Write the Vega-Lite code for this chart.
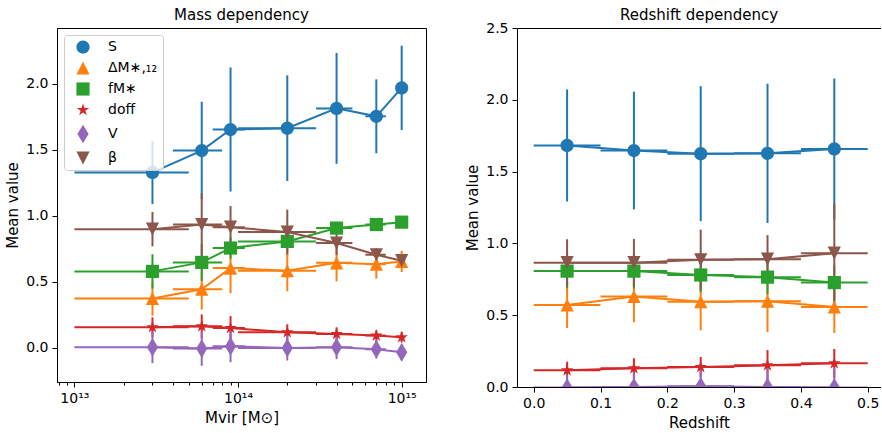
{
  "$schema": "https://vega.github.io/schema/vega-lite/v6.json",
  "autosize": {"type": "pad"},
  "padding": {"left": 5, "top": 7, "right": 0, "bottom": 0},
  "background": "white",
  "bounds": "flush",
  "spacing": 91,
  "config": {
    "font": "DejaVu Sans",
    "view": {"stroke": "black", "strokeWidth": 1},
    "axis": {
      "grid": false,
      "domainColor": "black",
      "domainWidth": 1,
      "tickColor": "black",
      "tickWidth": 1,
      "tickSize": 5,
      "labelColor": "black",
      "labelFont": "DejaVu Sans",
      "labelFontSize": 14,
      "labelPadding": 4,
      "labelFlush": false,
      "labelOverlap": false,
      "titleColor": "black",
      "titleFont": "DejaVu Sans",
      "titleFontSize": 15,
      "titleFontWeight": "normal",
      "titlePadding": 5
    },
    "title": {"fontSize": 15, "fontWeight": "normal", "font": "DejaVu Sans", "color": "black", "offset": 5}
  },
  "resolve": {
    "scale": {"x": "independent", "y": "independent"},
    "legend": {"color": "independent", "shape": "independent"}
  },
  "datasets": {
    "mass": [
      {"series": "S", "x": 3e13, "xlo": 1e13, "xhi": 5e13, "y": 1.33, "ylo": 1.09, "yhi": 1.57},
      {"series": "S", "x": 6e13, "xlo": 4e13, "xhi": 8e13, "y": 1.495, "ylo": 1.125, "yhi": 1.865},
      {"series": "S", "x": 9e13, "xlo": 7e13, "xhi": 1.1e14, "y": 1.655, "ylo": 1.185, "yhi": 2.125},
      {"series": "S", "x": 2e14, "xlo": 1e14, "xhi": 3e14, "y": 1.665, "ylo": 1.265, "yhi": 2.065},
      {"series": "S", "x": 4e14, "xlo": 3e14, "xhi": 5e14, "y": 1.815, "ylo": 1.395, "yhi": 2.235},
      {"series": "S", "x": 7e14, "xlo": 6e14, "xhi": 8e14, "y": 1.755, "ylo": 1.475, "yhi": 2.035},
      {"series": "S", "x": 1e15, "xlo": 9.5e14, "xhi": 1.05e15, "y": 1.97, "ylo": 1.65, "yhi": 2.29},
      {"series": "dM", "x": 3e13, "xlo": 1e13, "xhi": 5e13, "y": 0.375, "ylo": 0.245, "yhi": 0.505},
      {"series": "dM", "x": 6e13, "xlo": 4e13, "xhi": 8e13, "y": 0.445, "ylo": 0.29, "yhi": 0.6},
      {"series": "dM", "x": 9e13, "xlo": 7e13, "xhi": 1.1e14, "y": 0.605, "ylo": 0.415, "yhi": 0.795},
      {"series": "dM", "x": 2e14, "xlo": 1e14, "xhi": 3e14, "y": 0.585, "ylo": 0.43, "yhi": 0.74},
      {"series": "dM", "x": 4e14, "xlo": 3e14, "xhi": 5e14, "y": 0.645, "ylo": 0.505, "yhi": 0.785},
      {"series": "dM", "x": 7e14, "xlo": 6e14, "xhi": 8e14, "y": 0.635, "ylo": 0.525, "yhi": 0.745},
      {"series": "dM", "x": 1e15, "xlo": 9.5e14, "xhi": 1.05e15, "y": 0.655, "ylo": 0.575, "yhi": 0.735},
      {"series": "f", "x": 3e13, "xlo": 1e13, "xhi": 5e13, "y": 0.58, "ylo": 0.45, "yhi": 0.71},
      {"series": "f", "x": 6e13, "xlo": 4e13, "xhi": 8e13, "y": 0.648, "ylo": 0.508, "yhi": 0.788},
      {"series": "f", "x": 9e13, "xlo": 7e13, "xhi": 1.1e14, "y": 0.757, "ylo": 0.677, "yhi": 0.837},
      {"series": "f", "x": 2e14, "xlo": 1e14, "xhi": 3e14, "y": 0.807, "ylo": 0.737, "yhi": 0.877},
      {"series": "f", "x": 4e14, "xlo": 3e14, "xhi": 5e14, "y": 0.908, "ylo": 0.868, "yhi": 0.948},
      {"series": "f", "x": 7e14, "xlo": 6e14, "xhi": 8e14, "y": 0.935, "ylo": 0.905, "yhi": 0.965},
      {"series": "f", "x": 1e15, "xlo": 9.5e14, "xhi": 1.05e15, "y": 0.953, "ylo": 0.923, "yhi": 0.983},
      {"series": "doff", "x": 3e13, "xlo": 1e13, "xhi": 5e13, "y": 0.157, "ylo": 0.082, "yhi": 0.232},
      {"series": "doff", "x": 6e13, "xlo": 4e13, "xhi": 8e13, "y": 0.164, "ylo": 0.074, "yhi": 0.254},
      {"series": "doff", "x": 9e13, "xlo": 7e13, "xhi": 1.1e14, "y": 0.151, "ylo": 0.061, "yhi": 0.241},
      {"series": "doff", "x": 2e14, "xlo": 1e14, "xhi": 3e14, "y": 0.119, "ylo": 0.059, "yhi": 0.179},
      {"series": "doff", "x": 4e14, "xlo": 3e14, "xhi": 5e14, "y": 0.106, "ylo": 0.056, "yhi": 0.156},
      {"series": "doff", "x": 7e14, "xlo": 6e14, "xhi": 8e14, "y": 0.094, "ylo": 0.054, "yhi": 0.134},
      {"series": "doff", "x": 1e15, "xlo": 9.5e14, "xhi": 1.05e15, "y": 0.081, "ylo": 0.041, "yhi": 0.121},
      {"series": "V", "x": 3e13, "xlo": 1e13, "xhi": 5e13, "y": 0.005, "ylo": -0.115, "yhi": 0.125},
      {"series": "V", "x": 6e13, "xlo": 4e13, "xhi": 8e13, "y": -0.005, "ylo": -0.135, "yhi": 0.125},
      {"series": "V", "x": 9e13, "xlo": 7e13, "xhi": 1.1e14, "y": 0.012, "ylo": -0.108, "yhi": 0.132},
      {"series": "V", "x": 2e14, "xlo": 1e14, "xhi": 3e14, "y": 0.0, "ylo": -0.095, "yhi": 0.095},
      {"series": "V", "x": 4e14, "xlo": 3e14, "xhi": 5e14, "y": 0.005, "ylo": -0.085, "yhi": 0.095},
      {"series": "V", "x": 7e14, "xlo": 6e14, "xhi": 8e14, "y": -0.01, "ylo": -0.08, "yhi": 0.06},
      {"series": "V", "x": 1e15, "xlo": 9.5e14, "xhi": 1.05e15, "y": -0.033, "ylo": -0.093, "yhi": 0.027},
      {"series": "beta", "x": 3e13, "xlo": 1e13, "xhi": 5e13, "y": 0.9, "ylo": 0.77, "yhi": 1.03},
      {"series": "beta", "x": 6e13, "xlo": 4e13, "xhi": 8e13, "y": 0.935, "ylo": 0.7, "yhi": 1.17},
      {"series": "beta", "x": 9e13, "xlo": 7e13, "xhi": 1.1e14, "y": 0.915, "ylo": 0.755, "yhi": 1.075},
      {"series": "beta", "x": 2e14, "xlo": 1e14, "xhi": 3e14, "y": 0.878, "ylo": 0.708, "yhi": 1.048},
      {"series": "beta", "x": 4e14, "xlo": 3e14, "xhi": 5e14, "y": 0.795, "ylo": 0.705, "yhi": 0.885},
      {"series": "beta", "x": 7e14, "xlo": 6e14, "xhi": 8e14, "y": 0.706, "ylo": 0.656, "yhi": 0.756},
      {"series": "beta", "x": 1e15, "xlo": 9.5e14, "xhi": 1.05e15, "y": 0.661, "ylo": 0.616, "yhi": 0.706}
    ],
    "redshift": [
      {"series": "S", "x": 0.05, "xlo": 0.0, "xhi": 0.1, "y": 1.682, "ylo": 1.292, "yhi": 2.072},
      {"series": "S", "x": 0.15, "xlo": 0.1, "xhi": 0.2, "y": 1.647, "ylo": 1.237, "yhi": 2.057},
      {"series": "S", "x": 0.25, "xlo": 0.2, "xhi": 0.3, "y": 1.625, "ylo": 1.155, "yhi": 2.095},
      {"series": "S", "x": 0.35, "xlo": 0.3, "xhi": 0.4, "y": 1.627, "ylo": 1.142, "yhi": 2.112},
      {"series": "S", "x": 0.45, "xlo": 0.4, "xhi": 0.5, "y": 1.658, "ylo": 1.168, "yhi": 2.148},
      {"series": "dM", "x": 0.05, "xlo": 0.0, "xhi": 0.1, "y": 0.571, "ylo": 0.411, "yhi": 0.731},
      {"series": "dM", "x": 0.15, "xlo": 0.1, "xhi": 0.2, "y": 0.631, "ylo": 0.451, "yhi": 0.811},
      {"series": "dM", "x": 0.25, "xlo": 0.2, "xhi": 0.3, "y": 0.594, "ylo": 0.394, "yhi": 0.794},
      {"series": "dM", "x": 0.35, "xlo": 0.3, "xhi": 0.4, "y": 0.597, "ylo": 0.382, "yhi": 0.812},
      {"series": "dM", "x": 0.45, "xlo": 0.4, "xhi": 0.5, "y": 0.557, "ylo": 0.377, "yhi": 0.737},
      {"series": "f", "x": 0.05, "xlo": 0.0, "xhi": 0.1, "y": 0.807, "ylo": 0.687, "yhi": 0.927},
      {"series": "f", "x": 0.15, "xlo": 0.1, "xhi": 0.2, "y": 0.807, "ylo": 0.687, "yhi": 0.927},
      {"series": "f", "x": 0.25, "xlo": 0.2, "xhi": 0.3, "y": 0.78, "ylo": 0.66, "yhi": 0.9},
      {"series": "f", "x": 0.35, "xlo": 0.3, "xhi": 0.4, "y": 0.765, "ylo": 0.645, "yhi": 0.885},
      {"series": "f", "x": 0.45, "xlo": 0.4, "xhi": 0.5, "y": 0.727, "ylo": 0.607, "yhi": 0.847},
      {"series": "doff", "x": 0.05, "xlo": 0.0, "xhi": 0.1, "y": 0.116, "ylo": 0.056, "yhi": 0.176},
      {"series": "doff", "x": 0.15, "xlo": 0.1, "xhi": 0.2, "y": 0.13, "ylo": 0.06, "yhi": 0.2},
      {"series": "doff", "x": 0.25, "xlo": 0.2, "xhi": 0.3, "y": 0.139, "ylo": 0.069, "yhi": 0.209},
      {"series": "doff", "x": 0.35, "xlo": 0.3, "xhi": 0.4, "y": 0.151, "ylo": 0.045, "yhi": 0.257},
      {"series": "doff", "x": 0.45, "xlo": 0.4, "xhi": 0.5, "y": 0.165, "ylo": 0.065, "yhi": 0.265},
      {"series": "V", "x": 0.05, "xlo": 0.0, "xhi": 0.1, "y": -0.004, "ylo": -0.092, "yhi": 0.084},
      {"series": "V", "x": 0.15, "xlo": 0.1, "xhi": 0.2, "y": 0.0, "ylo": -0.1, "yhi": 0.1},
      {"series": "V", "x": 0.25, "xlo": 0.2, "xhi": 0.3, "y": 0.005, "ylo": -0.113, "yhi": 0.123},
      {"series": "V", "x": 0.35, "xlo": 0.3, "xhi": 0.4, "y": 0.0, "ylo": -0.13, "yhi": 0.13},
      {"series": "V", "x": 0.45, "xlo": 0.4, "xhi": 0.5, "y": -0.003, "ylo": -0.14, "yhi": 0.134},
      {"series": "beta", "x": 0.05, "xlo": 0.0, "xhi": 0.1, "y": 0.866, "ylo": 0.703, "yhi": 1.029},
      {"series": "beta", "x": 0.15, "xlo": 0.1, "xhi": 0.2, "y": 0.866, "ylo": 0.701, "yhi": 1.031},
      {"series": "beta", "x": 0.25, "xlo": 0.2, "xhi": 0.3, "y": 0.886, "ylo": 0.676, "yhi": 1.096},
      {"series": "beta", "x": 0.35, "xlo": 0.3, "xhi": 0.4, "y": 0.89, "ylo": 0.722, "yhi": 1.058},
      {"series": "beta", "x": 0.45, "xlo": 0.4, "xhi": 0.5, "y": 0.932, "ylo": 0.587, "yhi": 1.277}
    ]
  },
  "hconcat": [
    {
      "width": 369,
      "height": 354,
      "title": "Mass dependency",
      "data": {"name": "mass"},
      "view": {"stroke": "black", "strokeWidth": 1},
      "layer": [
        {
          "mark": {"type": "rule", "strokeWidth": 2},
          "encoding": {
            "x": {
              "field": "xlo", "type": "quantitative",
              "scale": {"type": "log", "domain": [7.83e12, 1.408e15], "nice": false, "zero": false},
              "axis": {
                "title": "Mvir [M⊙]",
                "values": [8e12, 9e12, 1e13, 2e13, 3e13, 4e13, 5e13, 6e13, 7e13, 8e13, 9e13, 1e14, 2e14, 3e14, 4e14, 5e14, 6e14, 7e14, 8e14, 9e14, 1e15],
                "labelExpr": "abs(log(datum.value)/LN10 - round(log(datum.value)/LN10)) < 0.001 ? (round(log(datum.value)/LN10) == 13 ? '10¹³' : round(log(datum.value)/LN10) == 14 ? '10¹⁴' : '10¹⁵') : ''",
                "tickSize": {"condition": {"test": "abs(log(datum.value)/LN10 - round(log(datum.value)/LN10)) < 0.001", "value": 5}, "value": 3}
              }
            },
            "x2": {"field": "xhi"},
            "y": {
              "field": "y", "type": "quantitative",
              "scale": {"domain": [-0.258, 2.424], "nice": false, "zero": false},
              "axis": {"title": "Mean value", "values": [0, 0.5, 1, 1.5, 2], "format": ".1f"}
            },
            "stroke": {
              "field": "series", "type": "nominal", "legend": null,
              "scale": {"domain": ["S", "dM", "f", "doff", "V", "beta"], "range": ["#1f77b4", "#ff7f0e", "#2ca02c", "#d62728", "#9467bd", "#8c564b"]}
            }
          }
        },
        {
          "mark": {"type": "rule", "strokeWidth": 2},
          "encoding": {
            "x": {"field": "x", "type": "quantitative", "axis": {"title": "Mvir [M⊙]"}},
            "y": {"field": "ylo", "type": "quantitative", "axis": {"title": "Mean value"}},
            "y2": {"field": "yhi"},
            "stroke": {"field": "series", "type": "nominal", "legend": null}
          }
        },
        {
          "mark": {"type": "line", "strokeWidth": 2},
          "encoding": {
            "x": {"field": "x", "type": "quantitative", "axis": {"title": "Mvir [M⊙]"}},
            "y": {"field": "y", "type": "quantitative", "axis": {"title": "Mean value"}},
            "stroke": {"field": "series", "type": "nominal", "legend": null}
          }
        },
        {
          "mark": {"type": "point", "filled": true, "size": 174, "opacity": 1},
          "encoding": {
            "x": {"field": "x", "type": "quantitative", "axis": {"title": "Mvir [M⊙]"}},
            "y": {"field": "y", "type": "quantitative", "axis": {"title": "Mean value"}},
            "color": {
              "field": "series", "type": "nominal",
              "scale": {"domain": ["S", "dM", "f", "doff", "V", "beta"], "range": ["#1f77b4", "#ff7f0e", "#2ca02c", "#d62728", "#9467bd", "#8c564b"]},
              "legend": {
                "title": null,
                "orient": "top-left",
                "direction": "vertical",
                "offset": 7,
                "padding": 5,
                "strokeColor": "#cccccc",
                "fillColor": "rgba(255,255,255,0.8)",
                "cornerRadius": 3,
                "labelFont": "DejaVu Sans",
                "labelFontSize": 14,
                "labelColor": "black",
                "symbolOffset": 7,
                "labelOffset": 18,
                "rowPadding": 7,
                "symbolSize": 174,
                "symbolStrokeWidth": 0,
                "labelExpr": "datum.value == 'dM' ? 'ΔM∗,₁₂' : datum.value == 'f' ? 'fM∗' : datum.value == 'beta' ? 'β' : datum.value"
              }
            },
            "shape": {
              "field": "series", "type": "nominal",
              "scale": {
                "domain": ["S", "dM", "f", "doff", "V", "beta"],
                "range": [
                  "M1,0A1,1,0,1,1,-1,0A1,1,0,1,1,1,0Z",
                  "M0,-1L1,1L-1,1Z",
                  "M-1,-1L1,-1L1,1L-1,1Z",
                  "M0,-1L0.2245,-0.309L0.951,-0.309L0.363,0.118L0.588,0.809L0,0.382L-0.588,0.809L-0.363,0.118L-0.951,-0.309L-0.2245,-0.309Z",
                  "M0,-1.414L0.849,0L0,1.414L-0.849,0Z",
                  "M0,1L-1,-1L1,-1Z"
                ]
              },
              "legend": {
                "title": null,
                "orient": "top-left",
                "direction": "vertical",
                "offset": 7,
                "padding": 5,
                "strokeColor": "#cccccc",
                "fillColor": "rgba(255,255,255,0.8)",
                "cornerRadius": 3,
                "labelFont": "DejaVu Sans",
                "labelFontSize": 14,
                "labelColor": "black",
                "symbolOffset": 7,
                "labelOffset": 18,
                "rowPadding": 7,
                "symbolSize": 174,
                "symbolStrokeWidth": 0,
                "labelExpr": "datum.value == 'dM' ? 'ΔM∗,₁₂' : datum.value == 'f' ? 'fM∗' : datum.value == 'beta' ? 'β' : datum.value"
              }
            }
          }
        }
      ]
    },
    {
      "width": 364,
      "height": 359,
      "title": {"text": "Redshift dependency", "offset": -2},
      "data": {"name": "redshift"},
      "view": {"stroke": null},
      "resolve": {"axis": {"x": "independent"}},
      "layer": [
        {
          "mark": {"type": "rule", "strokeWidth": 2, "clip": true},
          "encoding": {
            "x": {
              "field": "xlo", "type": "quantitative",
              "scale": {"domain": [-0.025, 0.5199], "nice": false, "zero": false},
              "axis": {"title": "Redshift", "values": [0, 0.1, 0.2, 0.3, 0.4, 0.5], "format": ".1f"}
            },
            "x2": {"field": "xhi"},
            "y": {
              "field": "y", "type": "quantitative",
              "scale": {"domain": [0, 2.5], "nice": false, "zero": false},
              "axis": {"title": "Mean value", "values": [0, 0.5, 1, 1.5, 2, 2.5], "format": ".1f"}
            },
            "stroke": {
              "field": "series", "type": "nominal", "legend": null,
              "scale": {"domain": ["S", "dM", "f", "doff", "V", "beta"], "range": ["#1f77b4", "#ff7f0e", "#2ca02c", "#d62728", "#9467bd", "#8c564b"]}
            }
          }
        },
        {
          "mark": {"type": "rule", "strokeWidth": 2, "clip": true},
          "encoding": {
            "x": {"field": "x", "type": "quantitative", "axis": null},
            "y": {"field": "ylo", "type": "quantitative", "axis": {"title": "Mean value"}},
            "y2": {"field": "yhi"},
            "stroke": {"field": "series", "type": "nominal", "legend": null}
          }
        },
        {
          "mark": {"type": "line", "strokeWidth": 2, "clip": true},
          "encoding": {
            "x": {"field": "x", "type": "quantitative", "axis": null},
            "y": {"field": "y", "type": "quantitative", "axis": {"title": "Mean value"}},
            "stroke": {"field": "series", "type": "nominal", "legend": null}
          }
        },
        {
          "mark": {"type": "point", "filled": true, "size": 174, "opacity": 1, "clip": true},
          "encoding": {
            "x": {"field": "x", "type": "quantitative", "axis": null},
            "y": {"field": "y", "type": "quantitative", "axis": {"title": "Mean value"}},
            "color": {
              "field": "series", "type": "nominal", "legend": null,
              "scale": {"domain": ["S", "dM", "f", "doff", "V", "beta"], "range": ["#1f77b4", "#ff7f0e", "#2ca02c", "#d62728", "#9467bd", "#8c564b"]}
            },
            "shape": {
              "field": "series", "type": "nominal", "legend": null,
              "scale": {
                "domain": ["S", "dM", "f", "doff", "V", "beta"],
                "range": [
                  "M1,0A1,1,0,1,1,-1,0A1,1,0,1,1,1,0Z",
                  "M0,-1L1,1L-1,1Z",
                  "M-1,-1L1,-1L1,1L-1,1Z",
                  "M0,-1L0.2245,-0.309L0.951,-0.309L0.363,0.118L0.588,0.809L0,0.382L-0.588,0.809L-0.363,0.118L-0.951,-0.309L-0.2245,-0.309Z",
                  "M0,-1.414L0.849,0L0,1.414L-0.849,0Z",
                  "M0,1L-1,-1L1,-1Z"
                ]
              }
            }
          }
        },
        {
          "mark": {"type": "rule", "opacity": 0},
          "encoding": {
            "x": {"field": "x", "type": "quantitative", "axis": {"orient": "top", "labels": false, "ticks": false, "title": null, "domain": true}}
          }
        }
      ]
    }
  ]
}
